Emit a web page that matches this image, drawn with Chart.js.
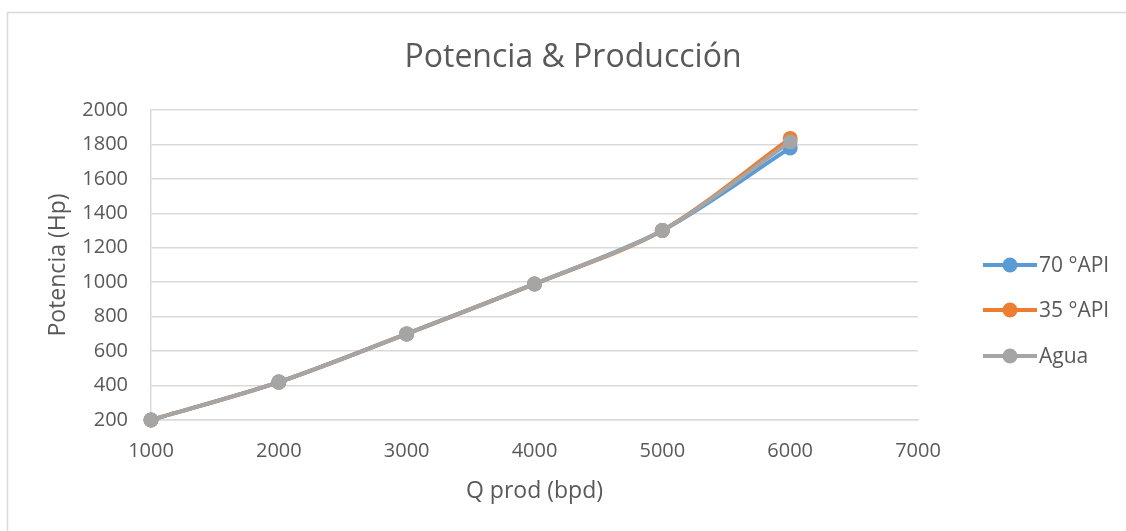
<!DOCTYPE html>
<html>
<head>
<meta charset="utf-8">
<script src="https://cdn.jsdelivr.net/npm/chart.js@4.4.1/dist/chart.umd.min.js"></script>
<style>
  html, body { margin: 0; padding: 0; background: #fff; }
  #wrap { width: 1126px; height: 531px; position: relative; }
</style>
</head>
<body>
<div id="wrap"><canvas id="c" width="1126" height="531"></canvas></div>
<script>
// Caudal de producción (bpd)
const caudal = [1000, 2000, 3000, 4000, 5000, 6000];
// Potencia requerida (Hp) para cada fluido
const potencia70API = [200, 420, 700, 990, 1300, 1780];
const potencia35API = [200, 420, 700, 990, 1300, 1835];
const potenciaAgua  = [200, 420, 700, 990, 1300, 1815];

const seriesNames  = ['70 °API', '35 °API', 'Agua'];
const seriesColors = ['#5B9BD5', '#ED7D31', '#A5A5A5'];

const titleText = 'Potencia & Producción';
const xTitle = 'Q prod (bpd)';
const yTitle = 'Potencia (Hp)';

const FONT = "'Open Sans', 'Noto Sans', sans-serif";
const TEXT_COLOR = '#595959';
const GRID_COLOR = '#D9D9D9';

function toPoints(values) {
  return caudal.map((x, i) => ({ x: x, y: values[i] }));
}

const seriesValues = [potencia70API, potencia35API, potenciaAgua];
const datasets = seriesValues.map((vals, i) => ({
  label: seriesNames[i],
  data: toPoints(vals),
  borderColor: seriesColors[i],
  backgroundColor: seriesColors[i],
  borderWidth: 4,
  pointRadius: 7.5,
  pointHoverRadius: 7.5,
  pointBorderWidth: 0,
  tension: 0.3,
  fill: false,
  clip: false,
  order: 3 - i
}));

// Marco exterior, título y leyenda dibujados sobre el lienzo
const decorations = {
  id: 'decorations',
  beforeDraw(chart) {
    const ctx = chart.ctx;
    ctx.save();
    ctx.fillStyle = '#fff';
    ctx.fillRect(0, 0, chart.width, chart.height);
    ctx.strokeStyle = GRID_COLOR;
    ctx.lineWidth = 1.5;
    ctx.beginPath();
    ctx.moveTo(7.5, chart.height);
    ctx.lineTo(7.5, 12.5);
    ctx.lineTo(chart.width, 12.5);
    ctx.stroke();
    ctx.restore();
  },
  afterDraw(chart) {
    const ctx = chart.ctx;
    ctx.save();
    // título
    ctx.fillStyle = TEXT_COLOR;
    ctx.font = '32px ' + FONT;
    ctx.textAlign = 'center';
    ctx.textBaseline = 'middle';
    ctx.fillText(titleText, 573, 58);
    // leyenda
    const x0 = 983, x1 = 1037, xm = 1010;
    const ys = [265, 310, 356];
    ctx.font = '21px ' + FONT;
    ctx.textAlign = 'left';
    chart.data.datasets.forEach((ds, i) => {
      const y = ys[i];
      ctx.strokeStyle = ds.borderColor;
      ctx.lineWidth = 4;
      ctx.beginPath();
      ctx.moveTo(x0, y);
      ctx.lineTo(x1, y);
      ctx.stroke();
      ctx.fillStyle = ds.backgroundColor;
      ctx.beginPath();
      ctx.arc(xm, y, 7.5, 0, Math.PI * 2);
      ctx.fill();
      ctx.fillStyle = TEXT_COLOR;
      ctx.fillText(ds.label, 1039, y + 1);
    });
    ctx.restore();
  }
};

const plainNumber = (v) => String(v);

new Chart(document.getElementById('c'), {
  type: 'line',
  data: { datasets: datasets },
  plugins: [decorations],
  options: {
    responsive: false,
    animation: false,
    events: [],
    layout: { padding: { left: 20, right: 208, top: 110, bottom: 20 } },
    plugins: {
      legend: { display: false },
      title: { display: false },
      tooltip: { enabled: false }
    },
    scales: {
      x: {
        type: 'linear',
        min: 1000,
        max: 7000,
        afterFit(scale) { scale.height = 531 - 420 - 20; },
        ticks: {
          stepSize: 1000,
          padding: 19,
          color: TEXT_COLOR,
          font: { family: FONT, size: 20 },
          maxRotation: 0,
          callback: plainNumber
        },
        grid: { display: false, drawTicks: false },
        border: { display: true, color: GRID_COLOR, width: 1.5 },
        title: {
          display: true,
          text: xTitle,
          color: TEXT_COLOR,
          font: { family: FONT, size: 23 },
          padding: { top: 0, bottom: 6 }
        }
      },
      y: {
        min: 200,
        max: 2000,
        afterFit(scale) { scale.width = 151 - 20; },
        ticks: {
          stepSize: 200,
          padding: 23,
          color: TEXT_COLOR,
          font: { family: FONT, size: 20 },
          callback: plainNumber
        },
        grid: { color: GRID_COLOR, lineWidth: 1.5, drawTicks: false },
        border: { display: true, color: GRID_COLOR, width: 1.5 },
        title: {
          display: true,
          text: yTitle,
          color: TEXT_COLOR,
          font: { family: FONT, size: 23 },
          padding: { top: 25, bottom: 0 }
        }
      }
    }
  }
});
</script>
</body>
</html>
